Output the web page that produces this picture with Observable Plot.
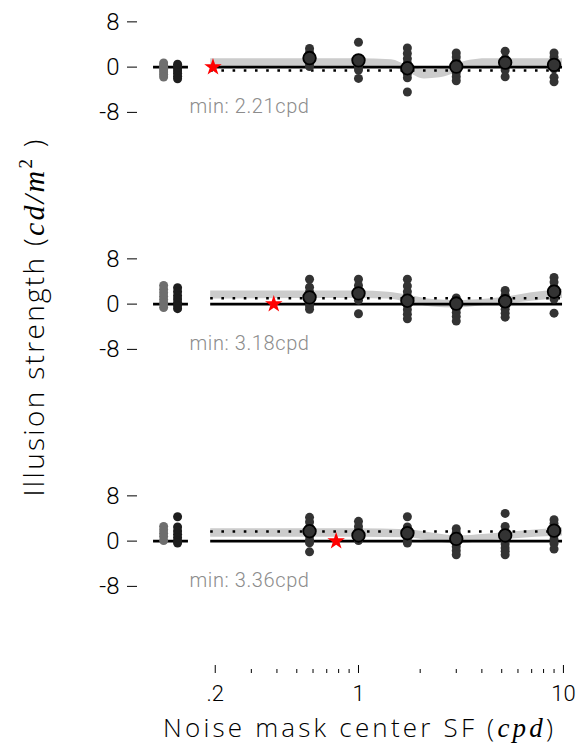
<!DOCTYPE html>
<html><head><meta charset="utf-8">
<script src="https://cdn.jsdelivr.net/npm/d3@7"></script>
<script src="https://cdn.jsdelivr.net/npm/@observablehq/plot@0.6"></script>
<style>
html,body{margin:0;padding:0;background:#fff;}
#chart{width:582px;height:753px;}
.minlab text{letter-spacing:0.6px;}
</style></head><body><div id="chart"></div>
<script>
// ---------- data ----------
const panels = ["p1", "p2", "p3"];
const maskSF = [0.577, 1, 1.732, 3, 5.196, 9];
const baselineSF = [0.112, 0.131];          // no-mask conditions (gray, dark)
const fitRange = [0.19, 9.9];
const baseRange = [0.1, 0.148];

const p1Gray = [0.75, 0.35, -0.05, -0.45, -0.85, -1.3, -1.75];
const p1Dark = [0.5, 0.1, -0.3, -0.7, -1.1, -1.6, -2.05];
const p1Cols = [
  [3.3, 2.6, 2.0, 1.5, 1.0, 0.6, 0.1],
  [4.4, 1.5, 1.0, 0.5, 0.0, -0.5, -2.0],
  [3.4, 2.4, 1.5, 0.7, 0.0, -0.6, -1.2, -1.9, -4.4],
  [2.5, 1.8, 1.0, 0.3, -0.3, -1.0, -1.7, -2.4],
  [2.8, 1.5, 0.9, 0.4, 0.0, -0.5, -1.7],
  [2.5, 1.8, 1.1, 0.5, 0.0, -0.3, -1.8, -2.6]
];
const p1Means = [1.6, 1.2, -0.2, 0.1, 0.8, 0.4];

const p2Gray = [3.3, 2.6, 2.0, 1.4, 0.8, 0.2, -0.6];
const p2Dark = [2.9, 2.2, 1.5, 0.9, 0.3, -0.3, -0.8];
const p2Cols = [
  [4.4, 3.0, 2.2, 1.6, 1.0, 0.4, -0.3, -0.9],
  [4.4, 3.3, 2.5, 1.8, 1.2, 0.7, -1.7],
  [4.4, 3.2, 2.2, 1.4, 0.6, -0.2, -1.0, -1.8, -2.6],
  [1.1, 0.5, -0.2, -0.8, -1.5, -2.2, -3.0],
  [2.4, 1.6, 0.9, 0.3, -0.3, -0.9, -1.6, -2.3],
  [4.7, 3.9, 3.0, 2.3, 1.6, 0.9, -1.6]
];
const p2Means = [1.2, 1.9, 0.6, 0.1, 0.5, 2.2];

const p3Gray = [2.6, 2.0, 1.4, 0.8, 0.1];
const p3Dark = [4.3, 2.5, 1.8, 1.2, 0.6, 0.0, -0.35];
const p3Cols = [
  [4.2, 3.4, 2.5, 1.6, 0.9, 0.2, -0.3, -1.9],
  [3.5, 2.6, 1.9, 1.3, 0.7, 0.1],
  [4.3, 2.5, 1.8, 1.2, 0.6, 0.0, -0.35],
  [2.2, 1.5, 0.8, 0.2, -0.4, -1.0, -1.7, -2.4],
  [4.9, 2.6, 1.6, 0.9, 0.2, -0.5, -1.2, -1.8, -2.4],
  [3.8, 3.1, 2.4, 1.7, 1.0, 0.3, -0.4, -1.4]
];
const p3Means = [1.75, 1.0, 1.4, 0.4, 1.0, 1.85];

// fit confidence band
const p1BandSF = [0.19, 1.0, 1.45, 1.73, 2.1, 2.5, 3.0, 3.5, 4.2, 9.9];
const p1BandLo = [0, 0, -0.1, -0.9, -2.1, -1.9, -1.0, 0.1, 0.0, 0.0];
const p1BandHi = [1.5, 1.5, 1.3, 0.3, -0.4, -0.3, 0.5, 1.2, 1.5, 1.5];
const p2BandSF = [0.19, 1.0, 1.4, 1.73, 2.3, 3.0, 4.0, 5.2, 7.0, 9.9];
const p2BandLo = [0.9, 1.0, 0.9, 0.3, -0.5, -0.7, -0.3, 0.0, 0.5, 1.0];
const p2BandHi = [2.3, 2.3, 2.1, 1.6, 0.8, 0.6, 0.8, 1.2, 2.0, 2.6];
const p3BandSF = [0.19, 1.0, 1.73, 2.5, 3.0, 4.2, 5.2, 9.9];
const p3BandLo = [0.7, 0.7, 0.6, -0.2, -0.5, 0.0, 0.3, 0.9];
const p3BandHi = [2.2, 2.2, 2.0, 1.2, 0.9, 1.2, 1.5, 2.3];

const dottedLevel = [-0.6, 1.05, 1.7];
const starSF = [0.195, 0.386, 0.778];
const minLabels = ["min: 2.21cpd", "min: 3.18cpd", "min: 3.36cpd"];

const yTicks = [-8, 0, 8];
const xMajor = [0.2, 1, 10];
const xMajorLabels = [".2", "1", "10"];
const xMinor = [0.3, 0.4, 0.5, 0.6, 0.7, 0.8, 0.9, 2, 3, 4, 5, 6, 7, 8, 9];

// ---------- tables ----------
const grays = [p1Gray, p2Gray, p3Gray];
const darks = [p1Dark, p2Dark, p3Dark];
const cols = [p1Cols, p2Cols, p3Cols];
const means = [p1Means, p2Means, p3Means];
const bands = [[p1BandSF, p1BandLo, p1BandHi], [p2BandSF, p2BandLo, p2BandHi], [p3BandSF, p3BandLo, p3BandHi]];

const grayPts = [], darkPts = [], pts = [], meanPts = [], bandPts = [];
panels.forEach((p, k) => {
  grays[k].forEach(v => grayPts.push({panel: p, sf: baselineSF[0], v}));
  darks[k].forEach(v => darkPts.push({panel: p, sf: baselineSF[1], v}));
  cols[k].forEach((arr, j) => arr.forEach(v => pts.push({panel: p, sf: maskSF[j], v})));
  means[k].forEach((v, j) => meanPts.push({panel: p, sf: maskSF[j], v}));
  const [s, lo, hi] = bands[k];
  s.forEach((sf, i) => bandPts.push({panel: p, sf, lo: lo[i], hi: hi[i]}));
});
const fitLines = panels.map(p => ({panel: p, x1: fitRange[0], x2: fitRange[1], y: 0}));
const baseLines = panels.map(p => ({panel: p, x1: baseRange[0], x2: baseRange[1], y: 0}));
const dotted = panels.map((p, k) => ({panel: p, x1: fitRange[0], x2: fitRange[1], y: dottedLevel[k]}));
const stars = panels.map((p, k) => ({panel: p, sf: starSF[k], v: 0}));
const mins = panels.map((p, k) => ({panel: p, label: minLabels[k]}));
const majorLabel = new Map(xMajor.map((d, i) => [d, xMajorLabels[i]]));

const FONT = "Roboto, 'Liberation Sans', sans-serif";
const TITLE_FONT = "'Open Sans', Roboto, sans-serif";
const DOT = "#333333";

const plot = Plot.plot({
  width: 582, height: 753,
  marginLeft: 137, marginRight: 0, marginTop: 0, marginBottom: 79,
  style: {fontFamily: FONT, fontSize: "24px", fontWeight: 300, color: "#000", background: "#fff"},
  x: {type: "log", domain: [0.0835, 12.39]},
  y: {domain: [-23.4, 11.6]},
  fy: {domain: panels, axis: null, paddingInner: 0.1639, paddingOuter: 0},
  marks: [
    Plot.areaY(bandPts, {fy: "panel", x: "sf", y1: "lo", y2: "hi", z: "panel", fill: "#cccccc", curve: "monotone-x"}),
    Plot.ruleY(fitLines, {fy: "panel", y: "y", x1: "x1", x2: "x2", stroke: "#000", strokeWidth: 2.6}),
    Plot.ruleY(baseLines, {fy: "panel", y: "y", x1: "x1", x2: "x2", stroke: "#000", strokeWidth: 2.6}),
    Plot.ruleY(dotted, {fy: "panel", y: "y", x1: "x1", x2: "x2", stroke: "#000", strokeWidth: 2.6, strokeDasharray: "2.6 8.6"}),
    Plot.dot(grayPts, {fy: "panel", x: "sf", y: "v", r: 4.5, fill: "#6e6e6e"}),
    Plot.dot(darkPts, {fy: "panel", x: "sf", y: "v", r: 4.5, fill: "#1e1e1e"}),
    Plot.dot(pts, {fy: "panel", x: "sf", y: "v", r: 4.5, fill: DOT}),
    Plot.dot(meanPts, {fy: "panel", x: "sf", y: "v", r: 6.3, fill: DOT, stroke: "#000", strokeWidth: 1.8}),
    Plot.dot(stars, {fy: "panel", x: "sf", y: "v", symbol: "star", r: 5.5, fill: "#ff0000", stroke: "none"}),
    Plot.text(mins, {fy: "panel", text: "label", y: () => -7, frameAnchor: "left", dx: 52, textAnchor: "start", fill: "#8c8c8c", fontSize: 20, className: "minlab"}),
    Plot.axisY({ticks: yTicks, tickSize: 10, tickPadding: 8, tickFormat: d => String(d), label: null}),
    Plot.axisX({ticks: xMajor, tickSize: -8, tickPadding: 20, fontSize: 22, tickFormat: d => majorLabel.get(d), label: null}),
    Plot.axisX({ticks: xMinor, tickSize: -4, tickFormat: () => "", label: null})
  ]
});

const svg = d3.select(plot);
const xt = svg.append("text").attr("x", 358).attr("y", 737).attr("text-anchor", "middle")
  .attr("textLength", 390).attr("lengthAdjust", "spacing")
  .attr("fill", "#000").style("font-family", TITLE_FONT).style("font-size", "26px").style("font-weight", 300);
xt.append("tspan").text("Noise mask center SF (");
xt.append("tspan").attr("font-family", "'Liberation Serif', serif").attr("font-style", "italic").attr("font-size", "27px").text("cpd");
xt.append("tspan").text(")");

const yt = svg.append("text").attr("transform", "translate(44,318) rotate(-90)").attr("text-anchor", "middle")
  .attr("textLength", 357).attr("lengthAdjust", "spacing")
  .attr("fill", "#000").style("font-family", TITLE_FONT).style("font-size", "28px").style("font-weight", 300);
yt.append("tspan").text("Illusion strength (");
yt.append("tspan").attr("font-family", "'Liberation Serif', serif").attr("font-style", "italic").attr("font-size", "30px").text("cd/m");
yt.append("tspan").attr("font-family", "'Liberation Serif', serif").attr("font-size", "19px").attr("dy", "-12").text("2");
yt.append("tspan").attr("dy", "12").text(" )");

document.getElementById("chart").appendChild(plot);
</script>
</body></html>
